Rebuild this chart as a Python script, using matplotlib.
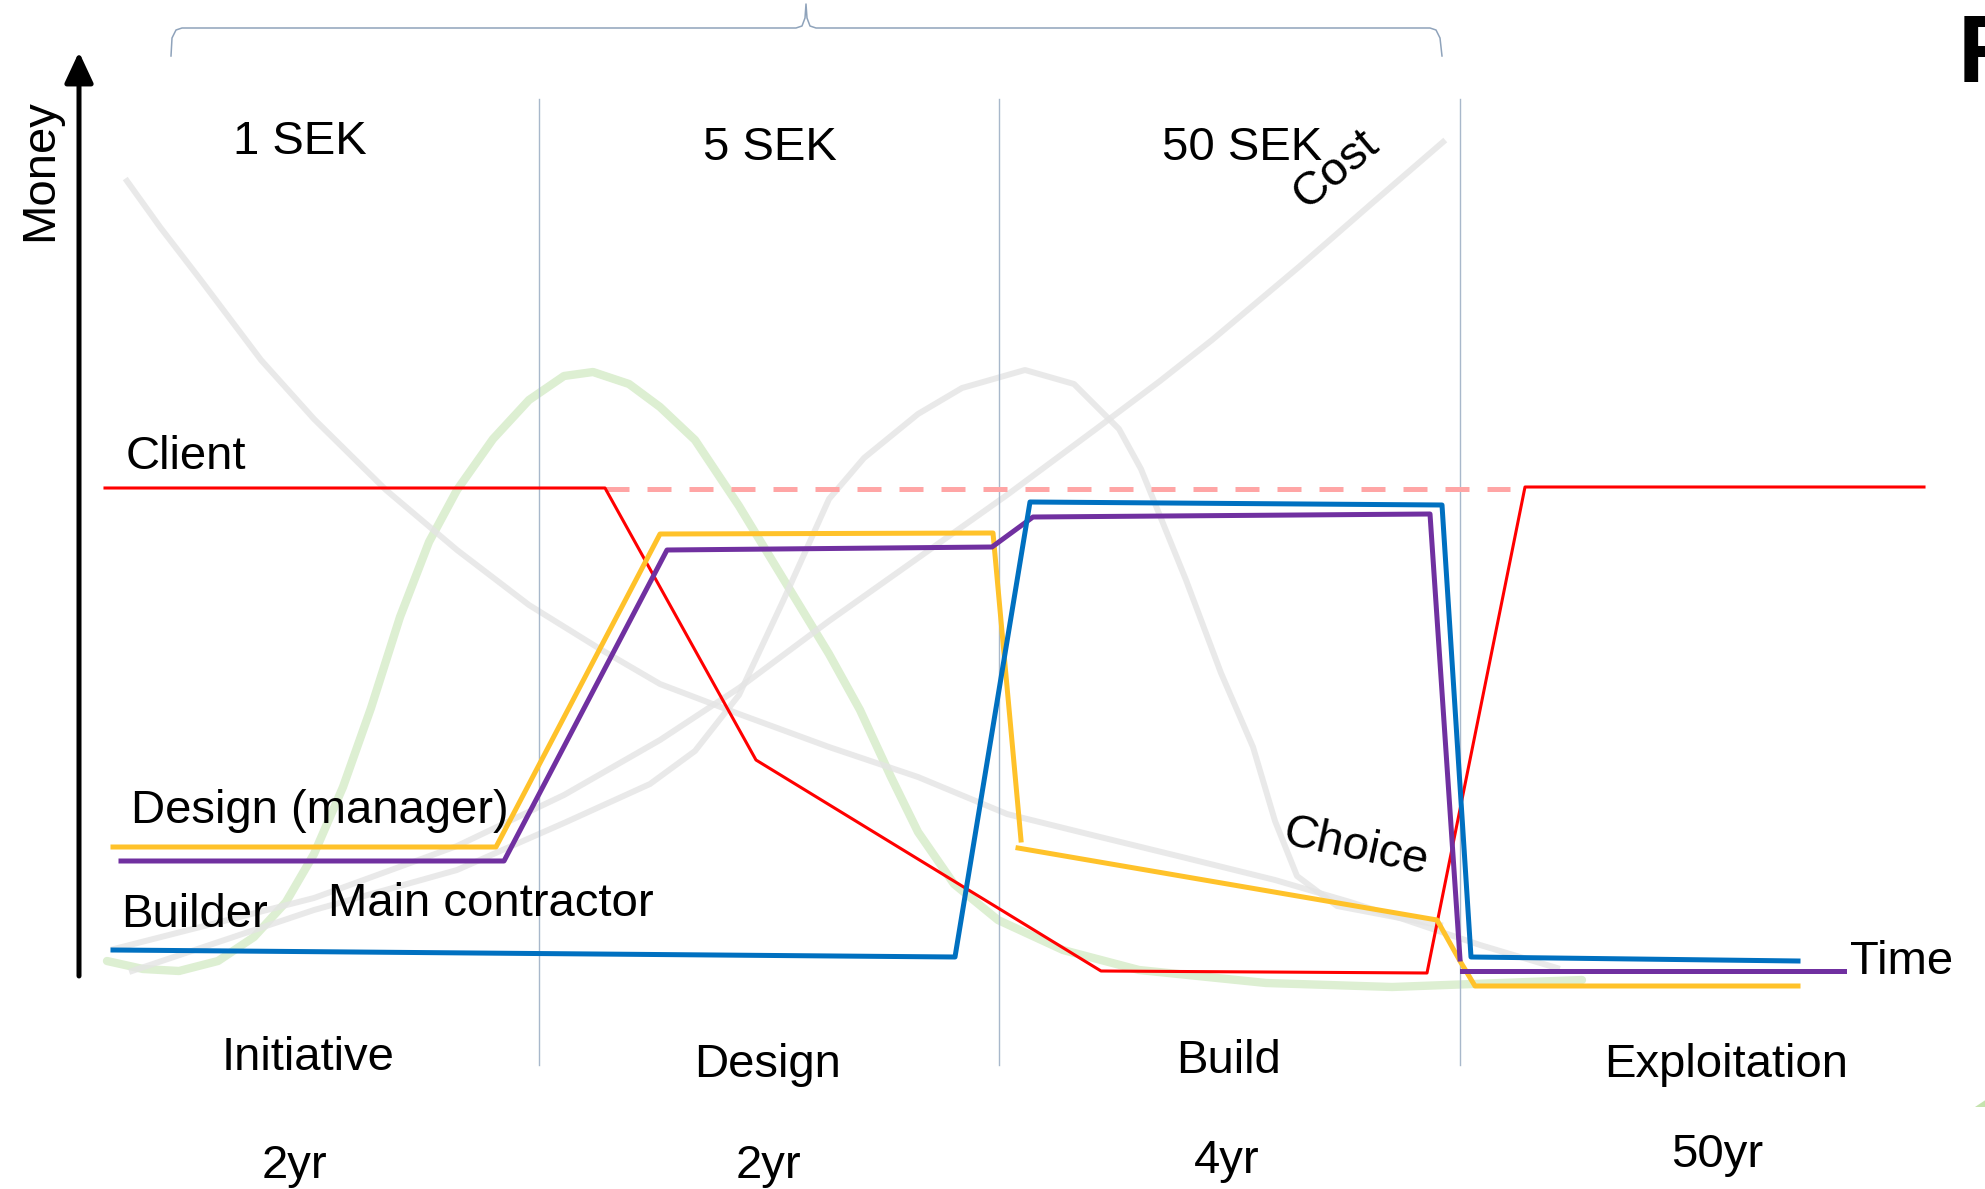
"""Project phase diagram: actors' money/influence over the building life cycle."""

import matplotlib
matplotlib.use('Agg')
import matplotlib.pyplot as plt

plt.rcParams['font.family'] = ['Liberation Sans', 'DejaVu Sans']

W, H = 1985, 1189

# --- series (picture coordinates, y grows downwards) ---
client_x = [105, 605, 756, 1101, 1427, 1525, 1924]
client_y = [488, 488, 760, 971, 973, 487, 487]
client_dash_x = [605, 1510]
client_dash_y = [489, 489]

design_x = [113, 496, 660, 993, 1021]
design_y = [847, 847, 534, 533, 840]
design2_x = [1018, 1437, 1460, 1475, 1798]
design2_y = [848, 920, 961, 986, 986]

main_x = [121, 504, 667, 992, 1033, 1430, 1460]
main_y = [861, 861, 550, 547, 517, 514, 959]
main2_x = [1462, 1844]
main2_y = [971, 971]

builder_x = [113, 955, 1030, 1442, 1471, 1798]
builder_y = [950, 957, 502, 505, 957, 961]

# light background curves
choice_x = [127, 160, 200, 261, 314, 386, 457, 529, 600, 660, 739, 829, 918, 1007,
            1096, 1186, 1275, 1350, 1400, 1480, 1557]
choice_y = [181, 227, 279, 360, 419, 490, 550, 605, 649, 684, 714, 747, 777, 814,
            836, 858, 880, 902, 918, 945, 968]
cost_x = [114, 314, 457, 564, 660, 739, 829, 918, 1007, 1096, 1160, 1212, 1300, 1370, 1443]
cost_y = [949, 898, 846, 795, 740, 688, 621, 558, 495, 429, 381, 340, 266, 205, 142]
bell_x = [132, 314, 457, 564, 650, 695, 739, 784, 829, 864, 918, 962, 1025,
          1074, 1119, 1141, 1186, 1221, 1253, 1275, 1297, 1337, 1400, 1440]
bell_y = [971, 910, 870, 823, 784, 751, 695, 599, 499, 458, 414, 388, 370,
          384, 429, 469, 580, 673, 747, 821, 876, 906, 918, 925]
green_x = [107, 143, 179, 218, 254, 286, 314, 343, 371, 400, 429, 457, 493,
           529, 564, 593, 629, 660, 695, 739, 784, 829, 860, 891, 918, 954,
           998, 1063, 1139, 1266, 1392, 1582]
green_y = [961, 969, 971, 961, 937, 902, 854, 787, 708, 617, 542, 490, 439,
           400, 376, 372, 384, 407, 440, 506, 580, 654, 710, 777, 832, 884,
           920, 950, 970, 983, 987, 980]
green_tip_x = [1975, 1990, 1990]
green_tip_y = [1107, 1097, 1107]

phase_bounds = [539, 999, 1460]
phase_names = ['Initiative', 'Design', 'Build', 'Exploitation']
phase_name_x = [308, 768, 1229, 1726]
phase_name_y = [1070, 1077, 1073, 1077]
phase_years = ['2yr', '2yr', '4yr', '50yr']
phase_year_x = [294, 768, 1227, 1717]
phase_year_y = [1178, 1178, 1173, 1167]
price_labels = ['1 SEK', '5 SEK', '50 SEK']
price_x = [300, 770, 1242]
price_y = [154, 160, 160]

brace_x = [171, 172, 176, 182, 796, 802, 805, 806, 807, 810, 816, 1430, 1436, 1440, 1442]
brace_y = [56, 38, 30, 28, 28, 26, 18, 4, 18, 26, 28, 28, 30, 38, 56]


fig = plt.figure(figsize=(W / 100, H / 100), dpi=100)
ax = fig.add_axes([0, 0, 1, 1])
ax.set_xlim(0, W)
ax.set_ylim(H, 0)
ax.axis('off')

# background curves
ax.plot(green_x, green_y, color='#DDEFD2', lw=6, solid_joinstyle='round',
        solid_capstyle='round', zorder=1)
ax.fill(green_tip_x, green_tip_y, color='#C5E3AE', lw=0, zorder=1)
for xs, ys in [(choice_x, choice_y), (cost_x, cost_y), (bell_x, bell_y)]:
    ax.plot(xs, ys, color='#E4E4E4', lw=4.3, alpha=0.8, solid_joinstyle='round', zorder=2)

# phase separators and brace
for xb in phase_bounds:
    ax.plot([xb, xb], [99, 1065], color='#A8B8CB', lw=1.0, zorder=3)
ax.plot(brace_x, brace_y, color='#8FA3BB', lw=1.1, zorder=3)

# axes arrows
ax.annotate('', xy=(79, 52), xytext=(79, 976),
            arrowprops=dict(arrowstyle='-|>,head_length=0.75,head_width=0.35',
                            lw=3.6, color='black', shrinkA=0, shrinkB=0,
                            mutation_scale=25), zorder=6)
ax.annotate('', xy=(1998, 1007), xytext=(111, 1007),
            arrowprops=dict(arrowstyle='-|>,head_length=0.75,head_width=0.35',
                            lw=4.3, color='black', shrinkA=0, shrinkB=0,
                            mutation_scale=25), zorder=6)

# actor lines
ax.plot(client_dash_x, client_dash_y, color='#FFA5A5', lw=3.6,
        linestyle=(0, (4.8, 3.6)), zorder=4)
ax.plot(client_x, client_y, color='#FF0000', lw=2.2, zorder=5)
ax.plot(design_x, design_y, color='#FFC22A', lw=3.6, zorder=5)
ax.plot(design2_x, design2_y, color='#FFC22A', lw=3.6, zorder=5)
ax.plot(main_x, main_y, color='#7030A0', lw=3.6, zorder=5)
ax.plot(main2_x, main2_y, color='#7030A0', lw=3.6, zorder=5)
ax.plot(builder_x, builder_y, color='#0070C0', lw=3.6, zorder=5)

# texts
fs = 34
ax.text(126, 469, 'Client', fontsize=fs, va='baseline', ha='left', zorder=7)
ax.text(131, 823, 'Design (manager)', fontsize=fs, va='baseline', ha='left', zorder=7)
ax.text(121, 927, 'Builder', fontsize=fs, va='baseline', ha='left', zorder=7)
ax.text(328, 916, 'Main contractor', fontsize=fs, va='baseline', ha='left', zorder=7)
ax.text(1850, 974, 'Time', fontsize=fs, va='baseline', ha='left', zorder=7)
ax.text(1356, 848, 'Choice', fontsize=fs, va='center', ha='center',
        rotation=-12, rotation_mode='anchor', zorder=7)
ax.text(1336, 170, 'Cost', fontsize=fs, va='center', ha='center',
        rotation=40, rotation_mode='anchor', zorder=7)
ax.text(40, 170, 'Money', fontsize=fs, va='center', ha='center',
        rotation=90, rotation_mode='anchor', zorder=7)
# letter cut by the right edge, as in the source slide
ax.text(1958, 82, 'R', fontsize=69, fontweight='bold', va='baseline', ha='left', zorder=7)

for lab, x, y in zip(price_labels, price_x, price_y):
    ax.text(x, y, lab, fontsize=fs, va='baseline', ha='center', zorder=7)
for lab, x, y in zip(phase_names, phase_name_x, phase_name_y):
    ax.text(x, y, lab, fontsize=fs, va='baseline', ha='center', zorder=7)
for lab, x, y in zip(phase_years, phase_year_x, phase_year_y):
    ax.text(x, y, lab, fontsize=fs, va='baseline', ha='center', zorder=7)

fig.savefig('out.png', dpi=100)
